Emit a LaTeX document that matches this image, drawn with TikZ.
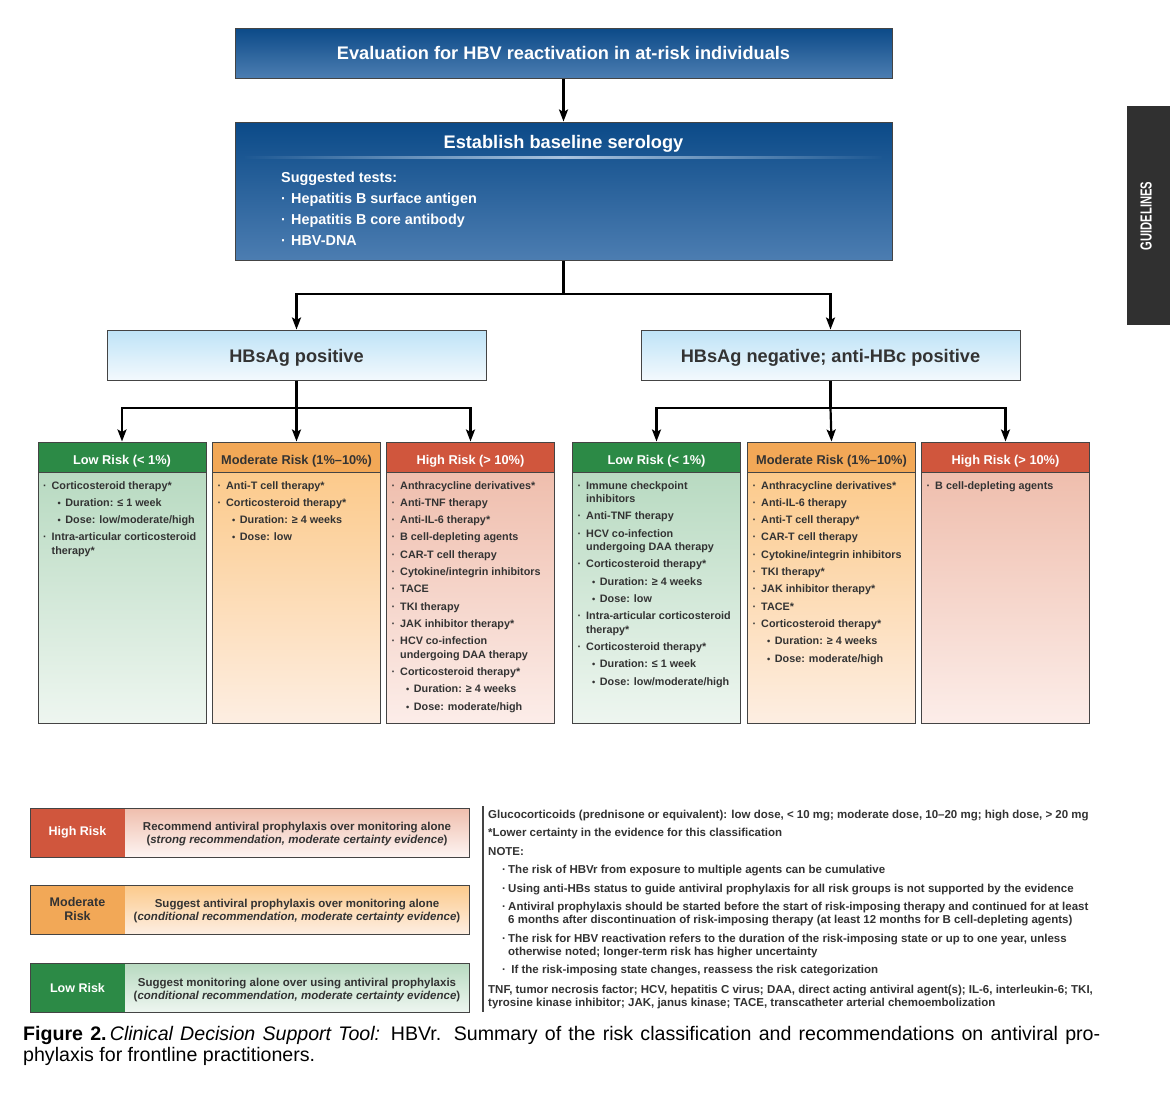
\documentclass[tikz,border=0pt]{standalone}
\usepackage{fontspec}
\setmainfont{Liberation Sans}
\newfontfamily\myTabFam[FakeStretch=0.7]{Liberation Sans}
\usetikzlibrary{arrows.meta}
\definecolor{bluetop}{HTML}{0B4A88}
\definecolor{bluebot}{HTML}{4C7DB1}
\definecolor{blueline}{HTML}{1D5893}
\definecolor{bluelinemid}{HTML}{A9C3DE}
\definecolor{ltblue}{HTML}{BEE3F7}
\definecolor{ltbluebot}{HTML}{F3F9FD}
\definecolor{grnh}{HTML}{2C8A46}
\definecolor{grntop}{HTML}{B8DAC1}
\definecolor{grnbot}{HTML}{EEF6F0}
\definecolor{orh}{HTML}{F2A857}
\definecolor{ortop}{HTML}{FCCA8B}
\definecolor{orbot}{HTML}{FDEEE2}
\definecolor{redh}{HTML}{D0563D}
\definecolor{redtop}{HTML}{EFBEAD}
\definecolor{redbot}{HTML}{FCEDE9}
\definecolor{frame}{HTML}{444444}
\definecolor{txt}{HTML}{333333}
\definecolor{tabgray}{HTML}{303030}
\newcommand\myTitle{\fontsize{18.2}{20}\selectfont\bfseries}
\newcommand\myHead{\fontsize{12.8}{14}\selectfont\bfseries}
\newcommand\myLeg{\fontsize{11.5}{13}\selectfont\bfseries}
\newcommand\myNote{\fontsize{11.5}{13}\selectfont\bfseries}
\newcommand\myBody{\fontsize{10.8}{13.5}\selectfont\bfseries}
\newcommand\bA[1]{\makebox[8.5pt][l]{·}#1}
\newcommand\bC[1]{\hspace*{8.5pt}#1}
\newcommand\bB[1]{\hspace*{14.5pt}\makebox[7.7pt][l]{\scalebox{0.85}{•}}#1}
\newcommand\nx{\\[3.8pt]}
\newcommand\colbody[1]{\parbox[t]{162pt}{\raggedright\myBody #1}}
\newcommand\nB[1]{\hspace*{14pt}\makebox[6pt][l]{·}#1}
\newcommand\nC[1]{\hspace*{20pt}#1}
\begin{document}
\begin{tikzpicture}[x=1pt,y=-1pt,
  box/.style={draw=frame, line width=1pt, inner sep=0pt},
  bluebox/.style={box, top color=bluetop, bottom color=bluebot, minimum width=657pt, text=white},
  lbbox/.style={box, top color=ltblue, bottom color=ltbluebot, minimum width=379pt, minimum height=50pt, text=txt, font=\myTitle, text height=15.5pt, text depth=0pt},
  hdr/.style={box, minimum width=168pt, minimum height=30pt, font=\myHead, text height=15pt, text depth=0pt},
  bdy/.style={box, minimum width=168pt, minimum height=251pt},
  ctext/.style={anchor=base west, inner sep=0pt, text=txt},
  cn/.style={line width=2.2pt, draw=black},
  arr/.style={cn, -{Stealth[length=12pt,width=9pt,inset=2.5pt]}},
  legtxt/.style={inner sep=0pt, minimum width=344pt, minimum height=49pt, text=txt},
  leglab/.style={inner sep=0pt, minimum width=95pt, minimum height=49pt, font=\fontsize{12.5}{14}\selectfont\bfseries, align=center},
  legframe/.style={box, minimum width=439pt, minimum height=49pt}
]
\useasboundingbox (0,0) rectangle (1170,1100);
\fill[white] (0,0) rectangle (1170,1100);

% top boxes
\node[bluebox, minimum height=50pt, font=\myTitle] (eval) at (563.5,53) {Evaluation for HBV reactivation in at-risk individuals};
\node[bluebox, minimum height=138pt] (sero) at (563.5,191) {};
\node[text=white, font=\myTitle, inner sep=0pt] (serot) at (563.5,144) {Establish baseline serology};
\shade[left color=blueline, right color=blueline, middle color=bluelinemid] (245,156) rectangle (882,158.3);
\node[ctext, text=white] (tests) at (281,182) {\parbox[t]{300pt}{\fontsize{14.4}{21}\selectfont\bfseries Suggested tests:\\
\makebox[10pt][l]{·}Hepatitis B surface antigen\\
\makebox[10pt][l]{·}Hepatitis B core antibody\\
\makebox[10pt][l]{·}HBV-DNA}};

% serology status boxes
\node[lbbox] (pos) at (296.5,355) {HBsAg positive};
\node[lbbox] (neg) at (830.5,355) {HBsAg negative; anti-HBc positive};

% risk columns, HBsAg positive
\node[hdr, fill=grnh, text=white] (h1) at (122,457) {Low Risk (< 1\%)};
\node[bdy, top color=grntop, bottom color=grnbot] (b1) at (122,597.5) {};
\node[ctext] (t1) at (43,489) {\colbody{\bA{Corticosteroid therapy*}\nx
\bB{Duration: ≤ 1 week}\nx
\bB{Dose: low/moderate/high}\nx
\bA{Intra-articular corticosteroid}\\
\bC{therapy*}}};

\node[hdr, fill=orh, text=txt] (h2) at (296.5,457) {Moderate Risk (1\%–10\%)};
\node[bdy, top color=ortop, bottom color=orbot] (b2) at (296.5,597.5) {};
\node[ctext] (t2) at (217.5,489) {\colbody{\bA{Anti-T cell therapy*}\nx
\bA{Corticosteroid therapy*}\nx
\bB{Duration: ≥ 4 weeks}\nx
\bB{Dose: low}}};

\node[hdr, fill=redh, text=white] (h3) at (470.5,457) {High Risk (> 10\%)};
\node[bdy, top color=redtop, bottom color=redbot] (b3) at (470.5,597.5) {};
\node[ctext] (t3) at (391.5,489) {\colbody{\bA{Anthracycline derivatives*}\nx
\bA{Anti-TNF therapy}\nx
\bA{Anti-IL-6 therapy*}\nx
\bA{B cell-depleting agents}\nx
\bA{CAR-T cell therapy}\nx
\bA{Cytokine/integrin inhibitors}\nx
\bA{TACE}\nx
\bA{TKI therapy}\nx
\bA{JAK inhibitor therapy*}\nx
\bA{HCV co-infection}\\
\bC{undergoing DAA therapy}\nx
\bA{Corticosteroid therapy*}\nx
\bB{Duration: ≥ 4 weeks}\nx
\bB{Dose: moderate/high}}};

% risk columns, HBsAg negative
\node[hdr, fill=grnh, text=white] (h4) at (656.5,457) {Low Risk (< 1\%)};
\node[bdy, top color=grntop, bottom color=grnbot] (b4) at (656.5,597.5) {};
\node[ctext] (t4) at (577.5,489) {\colbody{\bA{Immune checkpoint}\\
\bC{inhibitors}\nx
\bA{Anti-TNF therapy}\nx
\bA{HCV co-infection}\\
\bC{undergoing DAA therapy}\nx
\bA{Corticosteroid therapy*}\nx
\bB{Duration: ≥ 4 weeks}\nx
\bB{Dose: low}\nx
\bA{Intra-articular corticosteroid}\\
\bC{therapy*}\nx
\bA{Corticosteroid therapy*}\nx
\bB{Duration: ≤ 1 week}\nx
\bB{Dose: low/moderate/high}}};

\node[hdr, fill=orh, text=txt] (h5) at (831.5,457) {Moderate Risk (1\%–10\%)};
\node[bdy, top color=ortop, bottom color=orbot] (b5) at (831.5,597.5) {};
\node[ctext] (t5) at (752.5,489) {\colbody{\bA{Anthracycline derivatives*}\nx
\bA{Anti-IL-6 therapy}\nx
\bA{Anti-T cell therapy*}\nx
\bA{CAR-T cell therapy}\nx
\bA{Cytokine/integrin inhibitors}\nx
\bA{TKI therapy*}\nx
\bA{JAK inhibitor therapy*}\nx
\bA{TACE*}\nx
\bA{Corticosteroid therapy*}\nx
\bB{Duration: ≥ 4 weeks}\nx
\bB{Dose: moderate/high}}};

\node[hdr, fill=redh, text=white] (h6) at (1005.5,457) {High Risk (> 10\%)};
\node[bdy, top color=redtop, bottom color=redbot] (b6) at (1005.5,597.5) {};
\node[ctext] (t6) at (926.5,489) {\colbody{\bA{B cell-depleting agents}}};

% connectors
\coordinate (j1) at (563.5,294);
\coordinate (j2) at (296.5,408);
\coordinate (j3) at (830.5,408);
\draw[arr] (eval.south) -- (sero.north);
\draw[cn] (sero.south) -- (j1);
\draw[arr] (j1) -| (pos.north);
\draw[arr] (j1) -| (neg.north);
\draw[cn] (pos.south) -- (j2);
\draw[arr] (j2) -| (h1.north);
\draw[arr] (j2) -- (h2.north);
\draw[arr] (j2) -| (h3.north);
\draw[cn] (neg.south) -- (j3);
\draw[arr] (j3) -| (h4.north);
\draw[arr] (j3) -- (h5.north);
\draw[arr] (j3) -| (h6.north);

% legend
\node[legtxt, top color=redtop, bottom color=redbot!60!white] (lHt) at (297,832.5) {\parbox{340pt}{\vspace*{4pt}\centering\myLeg Recommend antiviral prophylaxis over monitoring alone\\(\textit{strong recommendation, moderate certainty evidence})}};
\node[leglab, fill=redh, text=white] (lHl) at (77.5,832.5) {High Risk};
\node[legframe] (lH) at (249.5,832.5) {};

\node[legtxt, top color=ortop, bottom color=orbot] (lMt) at (297,909.5) {\parbox{340pt}{\vspace*{4pt}\centering\myLeg Suggest antiviral prophylaxis over monitoring alone\\(\textit{conditional recommendation, moderate certainty evidence})}};
\node[leglab, fill=orh, text=txt] (lMl) at (77.5,909.5) {Moderate\\Risk};
\node[legframe] (lM) at (249.5,909.5) {};

\node[legtxt, top color=grntop, bottom color=grnbot] (lLt) at (297,988) {\parbox{340pt}{\vspace*{4pt}\centering\myLeg Suggest monitoring alone over using antiviral prophylaxis\\(\textit{conditional recommendation, moderate certainty evidence})}};
\node[leglab, fill=grnh, text=white] (lLl) at (77.5,988) {Low Risk};
\node[legframe] (lL) at (249.5,988) {};

\coordinate (sepT) at (483,806);
\coordinate (sepB) at (483,1012);
\draw[line width=1.2pt, draw=frame] (sepT) -- (sepB);

% notes
\node[ctext] (notes) at (488,818) {\parbox[t]{660pt}{\raggedright\myNote
Glucocorticoids (prednisone or equivalent): low dose, < 10 mg; moderate dose, 10–20 mg; high dose, > 20 mg\\[5.5pt]
*Lower certainty in the evidence for this classification\\[5.5pt]
NOTE:\\[5.5pt]
\nB{The risk of HBVr from exposure to multiple agents can be cumulative}\\[5.5pt]
\nB{Using anti-HBs status to guide antiviral prophylaxis for all risk groups is not supported by the evidence}\\[5.5pt]
\nB{Antiviral prophylaxis should be started before the start of risk-imposing therapy and continued for at least}\\
\nC{6 months after discontinuation of risk-imposing therapy (at least 12 months for B cell-depleting agents)}\\[5.5pt]
\nB{The risk for HBV reactivation refers to the duration of the risk-imposing state or up to one year, unless}\\
\nC{otherwise noted; longer-term risk has higher uncertainty}\\[5.5pt]
\nB{\ If the risk-imposing state changes, reassess the risk categorization}\\[6.5pt]
TNF, tumor necrosis factor; HCV, hepatitis C virus; DAA, direct acting antiviral agent(s); IL-6, interleukin-6; TKI,\\
tyrosine kinase inhibitor; JAK, janus kinase; TACE, transcatheter arterial chemoembolization}};

% caption
\node[ctext, text=black] (cap) at (23,1040) {\parbox[t]{1100pt}{\fontsize{19.6}{21}\selectfont\makebox[1077pt][s]{\textbf{Figure 2.}\,\textit{Clinical Decision Support Tool:} HBVr. Summary of the risk classification and recommendations on antiviral pro-}\\
phylaxis for frontline practitioners.}};

% side tab
\node[fill=tabgray, minimum width=43pt, minimum height=219pt, inner sep=0pt, anchor=north west] (tab) at (1127,106) {};
\node[rotate=90, text=white, inner sep=0pt, font=\myTabFam\fontsize{16}{16}\selectfont\bfseries] (tabtxt) at (1146,216) {GUIDELINES};
\end{tikzpicture}
\end{document}
